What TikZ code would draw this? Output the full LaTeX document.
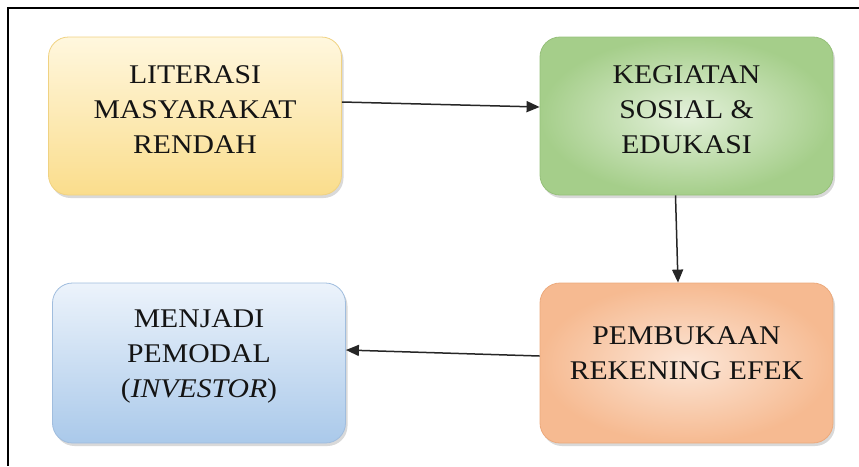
\documentclass[tikz,border=0pt]{standalone}
\usepackage{fontspec}
\setmainfont{Liberation Serif}[FakeStretch=1.1]
\usetikzlibrary{positioning,shadows,arrows.meta}

\definecolor{yellowtop}{RGB}{255,247,222}
\definecolor{yellowbot}{RGB}{250,221,140}
\definecolor{yellowline}{RGB}{240,210,130}
\definecolor{greenin}{RGB}{228,241,219}
\definecolor{greenout}{RGB}{165,206,138}
\definecolor{greenline}{RGB}{150,192,122}
\definecolor{bluetop}{RGB}{236,243,251}
\definecolor{bluebot}{RGB}{170,201,234}
\definecolor{blueline}{RGB}{160,189,222}
\definecolor{orangein}{RGB}{252,230,215}
\definecolor{orangeout}{RGB}{246,186,145}
\definecolor{orangeline}{RGB}{236,170,125}
\definecolor{textgray}{RGB}{20,20,20}

\begin{document}
\begin{tikzpicture}[x=1pt,y=-1pt,
                    stepbox/.style={rectangle, rounded corners=20pt, minimum width=293pt, minimum height=158pt, line width=0.8pt, drop shadow={opacity=0.3, shadow xshift=2pt, shadow yshift=-3pt}},
                    yellowbox/.style={stepbox, draw=yellowline, top color=yellowtop, bottom color=yellowbot},
                    greenbox/.style={stepbox, draw=greenline, inner color=greenin, outer color=greenout},
                    bluebox/.style={stepbox, draw=blueline, top color=bluetop, bottom color=bluebot, minimum height=160pt},
                    orangebox/.style={stepbox, draw=orangeline, inner color=orangein, outer color=orangeout, minimum height=160pt},
                    boxtext/.style={align=center, text=textgray, font=\fontsize{27pt}{35pt}\selectfont},
                    flow/.style={-{Triangle[length=13pt,width=11pt]}, line width=1.5pt, black!85}
                ]
                    \useasboundingbox (0,0) rectangle (859,466);
                    % frame
                    \draw[line width=2pt] (859,8) -- (8,8) -- (8,466);

                    \node[yellowbox] (lit) at (195,116) {};
                    \node[greenbox] (keg) at (686.5,116) {};
                    \node[orangebox] (pem) at (686.5,363) {};
                    \node[bluebox] (mod) at (199,363) {};

                    \node[boxtext] at ([yshift=6pt]lit.center) {LITERASI\\MASYARAKAT\\RENDAH};
                    \node[boxtext] at ([yshift=6pt]keg.center) {KEGIATAN\\SOSIAL \&\\EDUKASI};
                    \node[boxtext] at ([yshift=10pt]pem.center) {PEMBUKAAN\\REKENING EFEK};
                    \node[boxtext] at ([yshift=7pt]mod.center) {MENJADI\\PEMODAL\\(\textit{INVESTOR})};

                    \draw[flow] ([yshift=14pt]lit.east) -- ([yshift=9pt]keg.west);
                    \draw[flow] ([xshift=-11pt]keg.south) -- ([xshift=-8.5pt]pem.north);
                    \draw[flow] ([yshift=7pt]pem.west) -- ([yshift=13pt]mod.east);
                \end{tikzpicture}
\end{document}
